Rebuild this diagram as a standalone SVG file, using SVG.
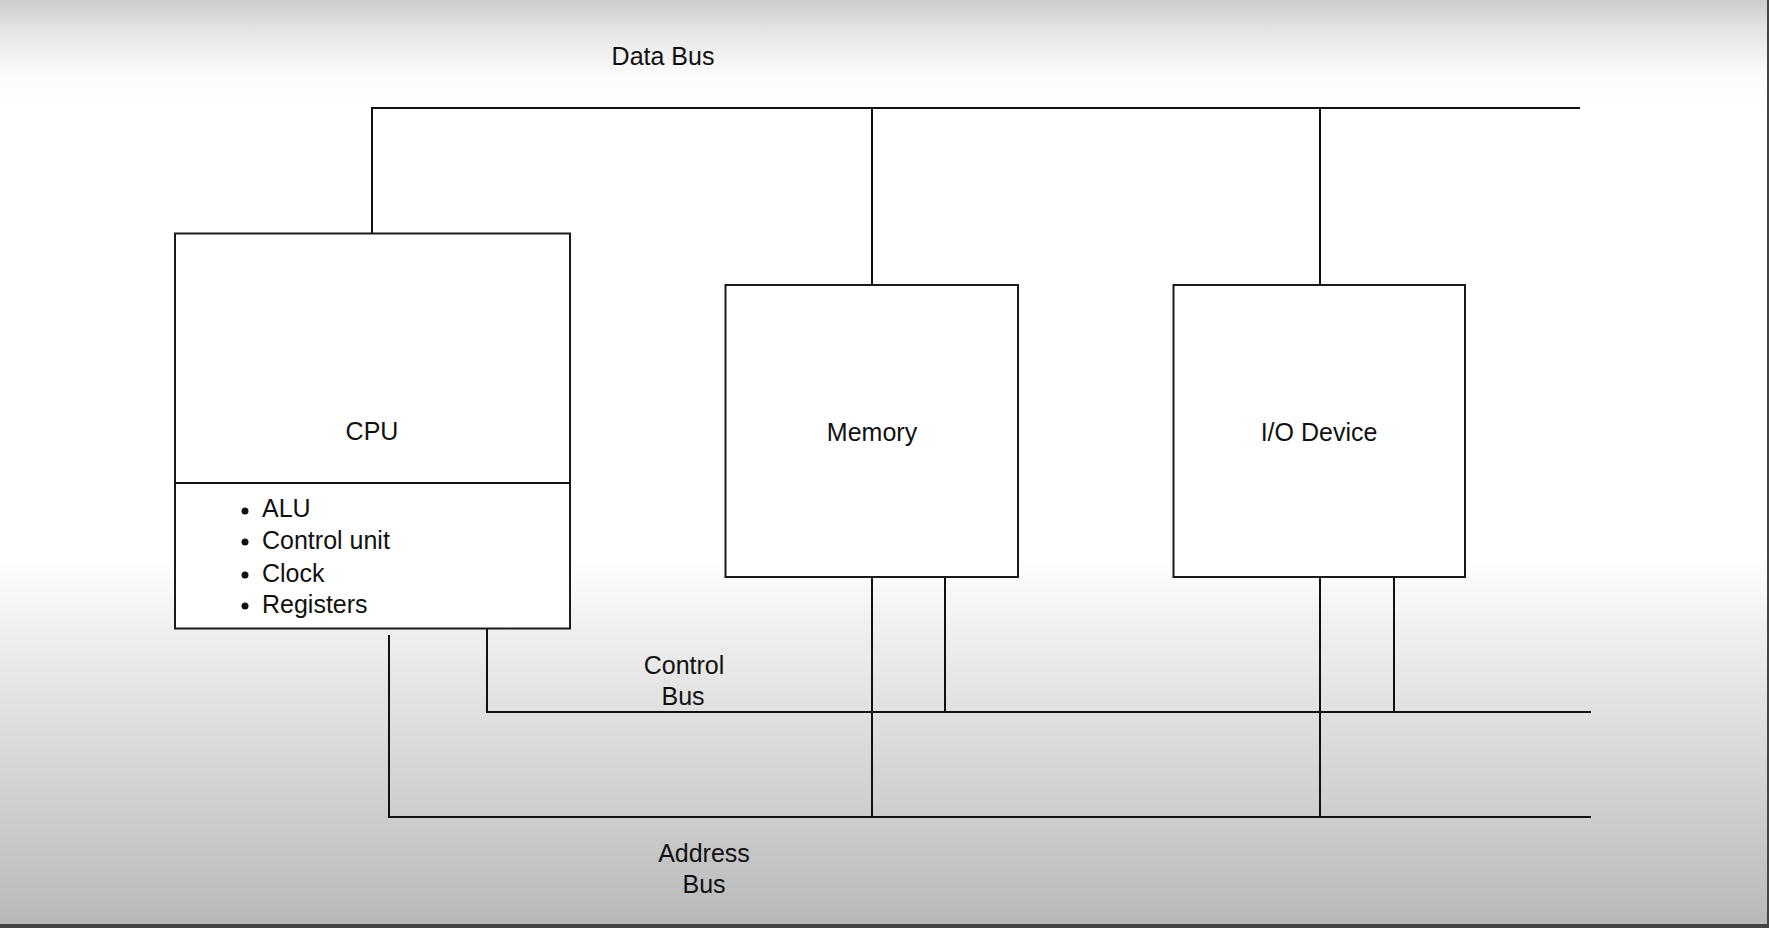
<svg xmlns="http://www.w3.org/2000/svg" width="1769" height="928" viewBox="0 0 1769 928">
<defs>
<linearGradient id="bg" x1="0" y1="0" x2="0" y2="928" gradientUnits="userSpaceOnUse">
<stop offset="0" stop-color="#cdcdcd"/>
<stop offset="0.035" stop-color="#e6e6e6"/>
<stop offset="0.08" stop-color="#fbfbfb"/>
<stop offset="0.12" stop-color="#ffffff"/>
<stop offset="0.6" stop-color="#ffffff"/>
<stop offset="0.68" stop-color="#efefef"/>
<stop offset="1" stop-color="#b8b8b8"/>
</linearGradient>
</defs>
<style>
.box{fill:#ffffff;stroke:#1a1a1a;stroke-width:2}
.ln{fill:none;stroke:#111111;stroke-width:2}
text{font-family:"Liberation Sans",Arial,sans-serif;font-size:25px;fill:#111111}
.c{text-anchor:middle}
</style>
<rect x="0" y="0" width="1769" height="928" fill="url(#bg)"/>
<rect x="1767" y="0" width="2" height="928" fill="#444444"/>
<rect x="0" y="924" width="1769" height="4" fill="#444444"/>

<g id="connectors">
<path class="ln" d="M372,233 V108 H1580"/>
<path class="ln" d="M872,108 V285"/>
<path class="ln" d="M1320,108 V285"/>
<path class="ln" d="M487,629 V712 H1591"/>
<path class="ln" d="M389,635 V817 H1591"/>
<path class="ln" d="M872,577 V817"/>
<path class="ln" d="M945,577 V712"/>
<path class="ln" d="M1320,577 V817"/>
<path class="ln" d="M1394,577 V712"/>
</g>

<g id="bus-labels">
<text x="663" y="65" class="c">Data Bus</text>
<text x="684" y="674" class="c">Control</text>
<text x="683" y="705" class="c">Bus</text>
<text x="704" y="862" class="c">Address</text>
<text x="704" y="893" class="c">Bus</text>
</g>

<g id="cpu">
<rect class="box" x="175" y="233.5" width="395" height="395"/>
<line class="ln" x1="175" y1="483" x2="570" y2="483"/>
<text x="372" y="440" class="c">CPU</text>
<g id="cpu-list">
<circle cx="245" cy="511" r="3.5" fill="#111"/>
<text x="262" y="517">ALU</text>
<circle cx="245" cy="542" r="3.5" fill="#111"/>
<text x="262" y="549">Control unit</text>
<circle cx="245" cy="575" r="3.5" fill="#111"/>
<text x="262" y="582">Clock</text>
<circle cx="245" cy="606" r="3.5" fill="#111"/>
<text x="262" y="613">Registers</text>
</g>
</g>

<g id="memory">
<rect class="box" x="725.5" y="285" width="292.5" height="292"/>
<text x="872" y="441" class="c">Memory</text>
</g>

<g id="io-device">
<rect class="box" x="1173.5" y="285" width="291.5" height="292"/>
<text x="1319" y="441" class="c">I/O Device</text>
</g>
</svg>
